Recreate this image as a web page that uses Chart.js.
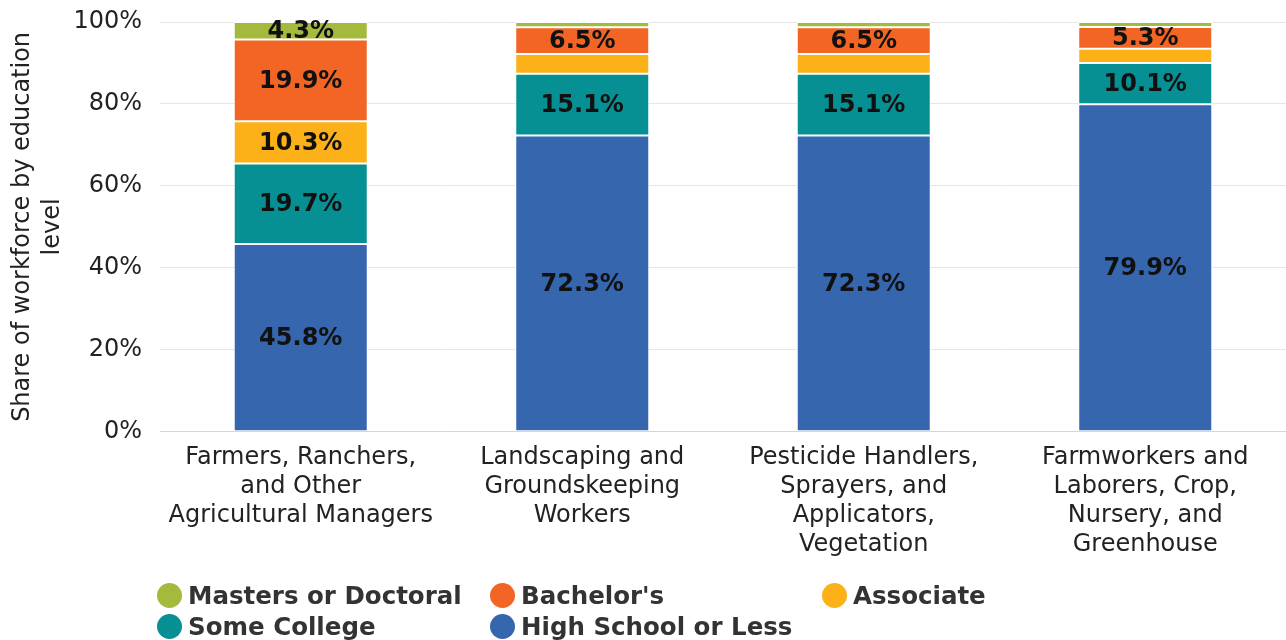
<!DOCTYPE html>
<html>
<head>
<meta charset="utf-8">
<script src="https://cdn.jsdelivr.net/npm/chart.js@4"></script>
<style>
  body { margin: 0; background: #fff; }
  #wrap { position: relative; width: 1286px; height: 640px; }
  #legend {
    position: absolute; left: 157px; top: 582px;
    display: grid; grid-template-columns: 333px 332px 300px;
    row-gap: 5px;
    font: bold 24.5px "DejaVu Sans", sans-serif; color: #333;
  }
  #legend .item { display: flex; align-items: center; height: 26px; white-space: nowrap; }
  #legend .dot { width: 25px; height: 25px; border-radius: 50%; margin-right: 6px; flex: none; }
</style>
</head>
<body>
<div id="wrap">
  <canvas id="eduChart" width="1286" height="640"></canvas>
  <div id="legend"></div>
</div>
<script>
const categories = [
  ['Farmers, Ranchers,', 'and Other', 'Agricultural Managers'],
  ['Landscaping and', 'Groundskeeping', 'Workers'],
  ['Pesticide Handlers,', 'Sprayers, and', 'Applicators,', 'Vegetation'],
  ['Farmworkers and', 'Laborers, Crop,', 'Nursery, and', 'Greenhouse']
];

// shares in percent, bottom to top
const highSchool = [45.8, 72.3, 72.3, 79.9];
const someCollege = [19.7, 15.1, 15.1, 10.1];
const associate = [10.3, 4.8, 4.8, 3.5];
const bachelors = [19.9, 6.5, 6.5, 5.3];
const masters = [4.3, 1.3, 1.3, 1.2];

const yTicks = [0, 20, 40, 60, 80, 100];

// which segments carry a value label
const showHighSchool = [true, true, true, true];
const showSomeCollege = [true, true, true, true];
const showAssociate = [true, false, false, false];
const showBachelors = [true, true, true, true];
const showMasters = [true, false, false, false];

const series = [
  { label: 'High School or Less', data: highSchool, color: '#3566ae', show: showHighSchool },
  { label: 'Some College', data: someCollege, color: '#079093', show: showSomeCollege },
  { label: 'Associate', data: associate, color: '#fbb117', show: showAssociate },
  { label: "Bachelor's", data: bachelors, color: '#f26524', show: showBachelors },
  { label: 'Masters or Doctoral', data: masters, color: '#a4ba3c', show: showMasters }
];

const FONT = '"DejaVu Sans", sans-serif';

// draw the percentage inside each segment
const segmentLabels = {
  id: 'segmentLabels',
  afterDatasetsDraw(chart) {
    const ctx = chart.ctx;
    ctx.save();
    ctx.font = 'bold 24px ' + FONT;
    ctx.fillStyle = '#111';
    ctx.textAlign = 'center';
    ctx.textBaseline = 'middle';
    chart.data.datasets.forEach((ds, i) => {
      const meta = chart.getDatasetMeta(i);
      meta.data.forEach((bar, j) => {
        if (!series[i].show[j]) return;
        const y = (bar.y + bar.base) / 2;
        ctx.fillText(ds.data[j].toFixed(1) + '%', bar.x, y + 1);
      });
    });
    ctx.restore();
  }
};

const ctx = document.getElementById('eduChart').getContext('2d');
new Chart(ctx, {
  type: 'bar',
  data: {
    labels: categories,
    datasets: series.map(s => ({
      label: s.label,
      data: s.data,
      backgroundColor: s.color,
      borderColor: '#ffffff',
      borderWidth: 1,
      borderSkipped: false,
      categoryPercentage: 1,
      barPercentage: 0.476
    }))
  },
  options: {
    responsive: false,
    animation: false,
    layout: { padding: { top: 0, bottom: 69, right: 0 } },
    plugins: {
      legend: { display: false },
      tooltip: { enabled: false }
    },
    scales: {
      x: {
        stacked: true,
        grid: { display: false, drawTicks: false },
        border: { display: true, color: '#ccd6eb' },
        ticks: {
          padding: 12,
          color: '#222',
          maxRotation: 0,
          autoSkip: false,
          font: { family: FONT, size: 24, lineHeight: 1.2 }
        }
      },
      y: {
        stacked: true,
        min: 0,
        max: 100,
        afterFit(scale) {
          scale.width = 160;
          scale.paddingTop = 22;
        },
        afterBuildTicks(scale) { scale.ticks = yTicks.map(v => ({ value: v })); },
        border: { display: false },
        grid: {
          drawTicks: false,
          color: c => (c.tick && c.tick.value === 0 ? '#ccd6eb' : '#e6e6e6')
        },
        ticks: {
          padding: 18,
          color: '#222',
          font: { family: FONT, size: 24 },
          callback: v => v + '%'
        },
        title: {
          display: true,
          text: ['Share of workforce by education', 'level'],
          color: '#222',
          padding: { top: 8, bottom: 0 },
          font: { family: FONT, size: 24, lineHeight: 1.25 }
        }
      }
    }
  },
  plugins: [segmentLabels]
});

// legend laid out as a grid, top row first
const legendOrder = ['Masters or Doctoral', "Bachelor's", 'Associate', 'Some College', 'High School or Less'];
const legendEl = document.getElementById('legend');
legendOrder.forEach(name => {
  const s = series.find(x => x.label === name);
  const item = document.createElement('div');
  item.className = 'item';
  const dot = document.createElement('span');
  dot.className = 'dot';
  dot.style.background = s.color;
  item.appendChild(dot);
  item.appendChild(document.createTextNode(s.label));
  legendEl.appendChild(item);
});
</script>
</body>
</html>
